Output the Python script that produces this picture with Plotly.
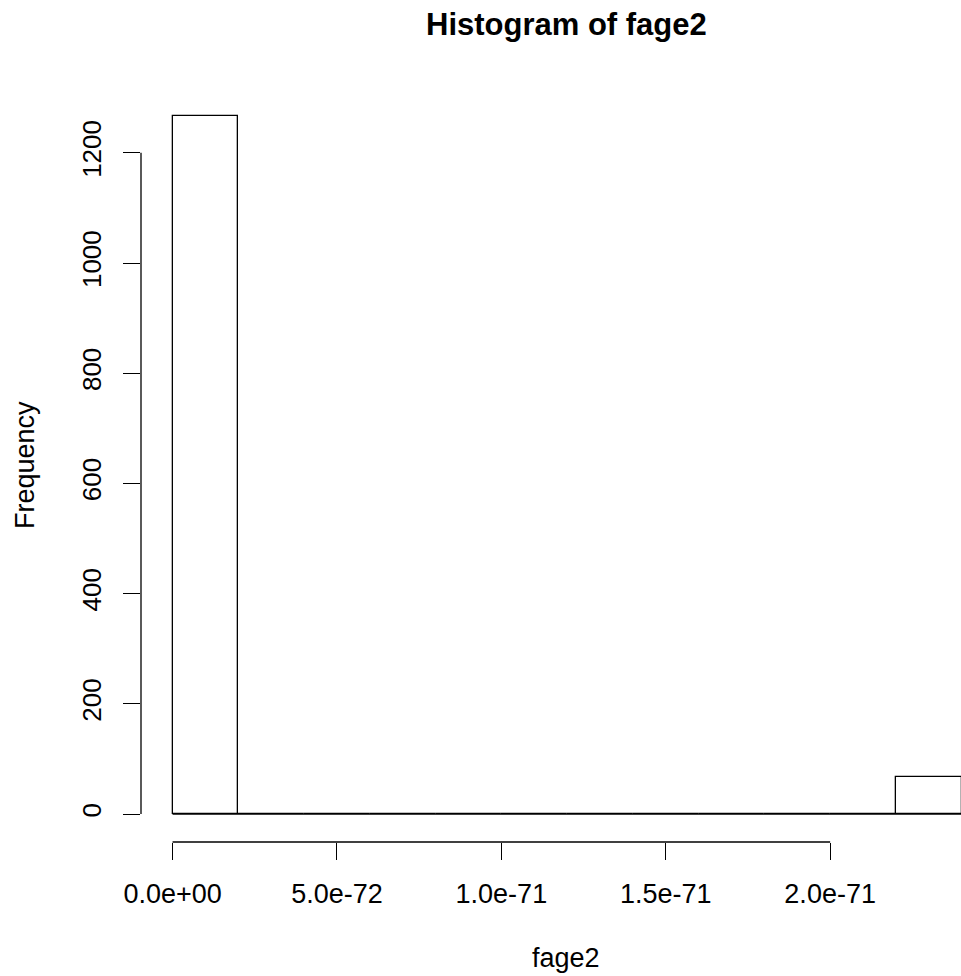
import plotly.graph_objects as go

# Histogram data (R hist of fage2)
bin_edges = [i * 2e-72 for i in range(13)]  # 0 .. 2.4e-71, width 2e-72
counts = [1267, 0, 0, 0, 0, 0, 0, 0, 0, 0, 0, 68]

x_tickvals = [0.0, 5e-72, 1e-71, 1.5e-71, 2e-71]
x_ticktext = ["0.0e+00", "5.0e-72", "1.0e-71", "1.5e-71", "2.0e-71"]
y_tickvals = [0, 200, 400, 600, 800, 1000, 1200]
y_ticktext = ["0", "200", "400", "600", "800", "1000", "1200"]

title_text = "Histogram of fage2"
x_title = "fage2"
y_title = "Frequency"

FONT = "Liberation Sans, Arial, sans-serif"
FS = 27

centers = [(a + b) / 2 for a, b in zip(bin_edges[:-1], bin_edges[1:])]
widths = [b - a for a, b in zip(bin_edges[:-1], bin_edges[1:])]

span = bin_edges[-1] - bin_edges[0]
ymax = max(counts)

fig = go.Figure()
# baseline of empty bins (R draws zero-height rectangles)
fig.add_trace(go.Scatter(
    x=[bin_edges[0], bin_edges[-1]], y=[0, 0], mode="lines",
    line=dict(color="black", width=1.3), hoverinfo="skip", showlegend=False,
))
fig.add_trace(go.Bar(
    x=centers, y=counts, width=widths,
    marker=dict(color="white", line=dict(color="black", width=1.3)),
    showlegend=False,
))

W, H = 961, 976
ml, mt, mb = 141, 88, 134

fig.update_layout(
    width=W, height=H,
    margin=dict(l=ml, r=0, t=mt, b=mb, pad=0),
    plot_bgcolor="white", paper_bgcolor="white",
    font=dict(family=FONT, size=FS, color="black"),
    bargap=0,
    xaxis=dict(
        range=[bin_edges[0] - 0.04 * span, 23.98e-72],
        tickmode="array", tickvals=x_tickvals, ticktext=x_ticktext,
        ticks="outside", ticklen=17, tickwidth=1.3, tickcolor="black",
        showgrid=False, zeroline=False, showline=False,
        tickfont=dict(size=FS), ticklabelstandoff=11,
    ),
    yaxis=dict(
        range=[-0.04 * ymax, 1.04 * ymax],
        tickmode="array", tickvals=y_tickvals, ticktext=y_ticktext,
        ticks="outside", ticklen=17, tickwidth=1.3, tickcolor="black",
        showgrid=False, zeroline=False, showline=False,
        tickangle=-90, tickfont=dict(size=26), ticklabelstandoff=12,
    ),
    shapes=[
        # R-style axis lines spanning first to last tick
        dict(type="line", xref="x", yref="paper",
             x0=x_tickvals[0], x1=x_tickvals[-1], y0=0, y1=0,
             line=dict(color="black", width=1.3)),
        dict(type="line", xref="paper", yref="y",
             x0=0, x1=0, y0=y_tickvals[0], y1=y_tickvals[-1],
             line=dict(color="black", width=1.3)),
    ],
    annotations=[
        dict(text="<b>" + title_text + "</b>", xref="paper", yref="paper",
             x=(566 - ml) / (W - ml), y=1 + (mt - 24.5) / (H - mt - mb),
             xanchor="center", yanchor="middle", showarrow=False,
             font=dict(size=31, family=FONT)),
        dict(text=x_title, xref="paper", yref="paper",
             x=(566 - ml) / (W - ml), y=-(958 - (H - mb)) / (H - mt - mb),
             xanchor="center", yanchor="middle", showarrow=False,
             font=dict(size=FS, family=FONT)),
        dict(text=y_title, xref="paper", yref="paper", textangle=-90,
             x=-(ml - 25) / (W - ml), y=0.5,
             xanchor="center", yanchor="middle", showarrow=False,
             font=dict(size=FS, family=FONT)),
    ],
)

fig.write_html(
    "out.html",
    config={"displayModeBar": False},
    post_script="document.body.style.margin='0';document.body.style.overflow='hidden';",
)
